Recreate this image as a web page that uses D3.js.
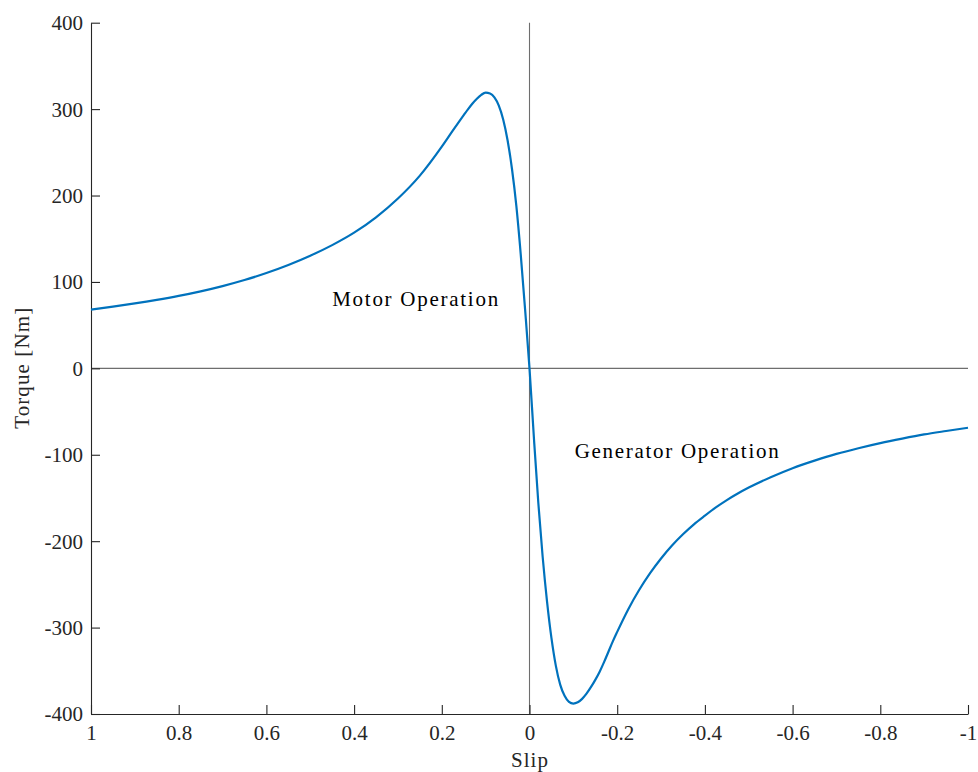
<!DOCTYPE html>
<html>
<head>
<meta charset="utf-8">
<script src="https://cdn.jsdelivr.net/npm/d3@7"></script>
<style>
  html, body { margin: 0; padding: 0; background: #fff; }
  svg { display: block; }
  text { font-family: "Liberation Serif", "DejaVu Serif", serif; fill: #262626; }
</style>
</head>
<body>
<svg id="chart" width="978" height="772"></svg>
<script>
// Torque–slip characteristic of an induction machine
const slip = [
  1.0, 0.95, 0.9, 0.85, 0.8, 0.75, 0.7, 0.65, 0.6, 0.55,
  0.5, 0.45, 0.4, 0.35, 0.3, 0.25, 0.2, 0.175, 0.15, 0.14,
  0.13, 0.12, 0.11, 0.1, 0.09, 0.08, 0.07, 0.06, 0.05, 0.04,
  0.03, 0.02, 0.01, 0.0,
  -0.01, -0.02, -0.03, -0.04, -0.05, -0.06, -0.07, -0.08, -0.09, -0.1,
  -0.11, -0.12, -0.13, -0.14, -0.15, -0.16, -0.17, -0.18, -0.19, -0.2,
  -0.225, -0.25, -0.275, -0.3, -0.325, -0.35, -0.375, -0.4, -0.425, -0.45,
  -0.475, -0.5, -0.55, -0.6, -0.65, -0.7, -0.75, -0.8, -0.85, -0.9,
  -0.95, -1.0
];
const torque = [
  68, 71.4, 75.1, 79.2, 83.8, 89.1, 95.2, 102.2, 110.3, 119.6,
  130.3, 142.6, 157, 174.8, 196.5, 223, 256.5, 275, 293, 300,
  306.5, 312, 316.5, 319, 318, 313.5, 304, 288, 264, 231,
  188, 132, 68, 0,
  -80, -155, -218, -270, -312, -344, -366, -379, -386, -388,
  -386.5, -382.5, -376.5, -369, -360.5, -351, -340, -328, -316, -305,
  -279, -256.5, -237, -220, -205, -192, -180.5, -170.5, -161, -152.5,
  -144.9, -138, -126, -115.5, -106.8, -99, -92.4, -86.5, -81.3, -76.5,
  -72.5, -68.7
];

const xTicks = [1, 0.8, 0.6, 0.4, 0.2, 0, -0.2, -0.4, -0.6, -0.8, -1];
const yTicks = [400, 300, 200, 100, 0, -100, -200, -300, -400];
const xTickLabels = ["1", "0.8", "0.6", "0.4", "0.2", "0", "-0.2", "-0.4", "-0.6", "-0.8", "-1"];
const yTickLabels = ["400", "300", "200", "100", "0", "-100", "-200", "-300", "-400"];

const annotations = [
  { text: "Motor Operation", s: 0.45, t: 80, width: 166 },
  { text: "Generator Operation", s: -0.103, t: -96, width: 204 }
];

const svg = d3.select("#chart");
const plotLeft = 91, plotRight = 968, plotTop = 22.7, plotBottom = 714;

const x = d3.scaleLinear().domain([1, -1]).range([plotLeft, plotRight]);
const y = d3.scaleLinear().domain([-400, 400]).range([plotBottom, plotTop]);

const axisColor = "#262626";
const fontSize = 21;

// reference lines through the origin
svg.append("line")
  .attr("x1", x(1)).attr("x2", x(-1))
  .attr("y1", y(0)).attr("y2", y(0))
  .attr("stroke", "#6e6e6e").attr("stroke-width", 1.1);
svg.append("line")
  .attr("x1", x(0)).attr("x2", x(0))
  .attr("y1", y(400)).attr("y2", y(-400))
  .attr("stroke", "#6e6e6e").attr("stroke-width", 1.1);

// bottom axis (ticks point inward)
const xAxis = d3.axisBottom(x)
  .tickValues(xTicks)
  .tickSize(-9)
  .tickSizeOuter(0)
  .tickFormat((d, i) => xTickLabels[i]);
const gx = svg.append("g").attr("transform", `translate(0,${plotBottom})`).call(xAxis);
gx.select(".domain").attr("stroke", axisColor).attr("stroke-width", 1.1);
gx.selectAll(".tick line").attr("stroke", axisColor).attr("stroke-width", 1.1);
gx.selectAll(".tick text")
  .attr("font-family", "Liberation Serif, serif")
  .attr("font-size", fontSize)
  .attr("fill", axisColor)
  .attr("dy", "0")
  .attr("y", 26);

// left axis (ticks point inward)
const yAxis = d3.axisLeft(y)
  .tickValues(yTicks)
  .tickSize(-9)
  .tickSizeOuter(0)
  .tickFormat((d, i) => yTickLabels[i]);
const gy = svg.append("g").attr("transform", `translate(${plotLeft},0)`).call(yAxis);
gy.select(".domain").attr("stroke", axisColor).attr("stroke-width", 1.1);
gy.selectAll(".tick line").attr("stroke", axisColor).attr("stroke-width", 1.1);
gy.selectAll(".tick text")
  .attr("font-family", "Liberation Serif, serif")
  .attr("font-size", fontSize)
  .attr("fill", axisColor)
  .attr("x", -8)
  .attr("dy", "0.33em");

// torque curve
const pts = slip.map((s, i) => [s, torque[i]]);
const line = d3.line()
  .x(d => x(d[0]))
  .y(d => y(d[1]))
  .curve(d3.curveMonotoneX);
svg.append("path")
  .datum(pts)
  .attr("d", line)
  .attr("fill", "none")
  .attr("stroke", "#0072BD")
  .attr("stroke-width", 2.2)
  .attr("stroke-linejoin", "round");

// region annotations
svg.selectAll("text.note")
  .data(annotations)
  .enter().append("text")
  .attr("class", "note")
  .attr("x", d => x(d.s))
  .attr("y", d => y(d.t))
  .attr("dy", "0.33em")
  .attr("font-size", fontSize)
  .attr("textLength", d => d.width)
  .attr("lengthAdjust", "spacing")
  .style("fill", "#000")
  .text(d => d.text);

// axis titles
svg.append("text")
  .attr("x", x(0))
  .attr("y", 767)
  .attr("text-anchor", "middle")
  .attr("font-size", fontSize)
  .attr("textLength", 37)
  .attr("lengthAdjust", "spacing")
  .text("Slip");
svg.append("text")
  .attr("transform", `translate(29,${y(0)}) rotate(-90)`)
  .attr("text-anchor", "middle")
  .attr("font-size", fontSize)
  .attr("textLength", 121)
  .attr("lengthAdjust", "spacing")
  .text("Torque [Nm]");
</script>
</body>
</html>
